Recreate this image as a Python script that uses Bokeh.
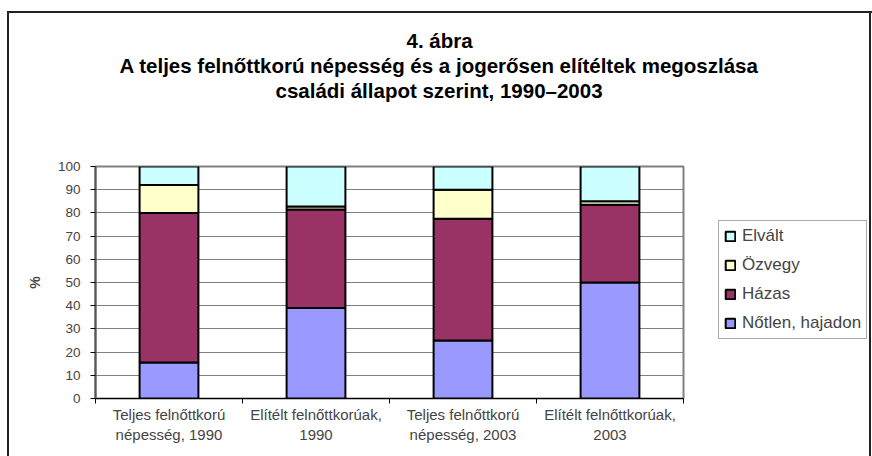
from bokeh.plotting import figure
from bokeh.models import FixedTicker, Legend, LegendItem, Title, Range1d, InlineStyleSheet
from bokeh.embed import file_html
from bokeh.resources import INLINE

categories = ["Teljes felnőttkorú\nnépesség, 1990", "Elítélt felnőttkorúak,\n1990",
              "Teljes felnőttkorú\nnépesség, 2003", "Elítélt felnőttkorúak,\n2003"]
series_names = ["Nőtlen, hajadon", "Házas", "Özvegy", "Elvált"]
notlen = [15.5, 39.0, 25.0, 50.0]
hazas = [64.5, 42.5, 52.5, 33.5]
ozvegy = [12.0, 1.3, 12.5, 1.5]
elvalt = [8.0, 17.2, 10.0, 15.0]
colors = ["#9999FF", "#993366", "#FFFFCC", "#CCFFFF"]
y_ticks = list(range(0, 101, 10))
title_lines = ["4. ábra",
               "A teljes felnőttkorú népesség és a jogerősen elítéltek megoszlása",
               "családi állapot szerint, 1990–2003"]
title_offsets = [311, 24, 180]   # left offsets (px) so each line is centred on the chart area

FONT = "Liberation Sans"
xs = [i + 0.5 for i in range(len(categories))]
data = dict(x=xs)
keys = ["s0", "s1", "s2", "s3"]
for k, vals in zip(keys, [notlen, hazas, ozvegy, elvalt]):
    data[k] = vals

p = figure(frame_width=588, frame_height=232,
           x_range=Range1d(0, len(categories)), y_range=Range1d(0, 100),
           output_backend="svg", toolbar_location=None, title=None,
           min_border_left=86, min_border_right=186, min_border_top=153, min_border_bottom=58)
p.margin = (11, 0, 0, 7)
p.styles = {"border-left": "2px solid #222", "border-top": "2px solid #222"}
p.stylesheets = [InlineStyleSheet(css=(
    ":host { position: relative; }"
    ":host::after { content: ''; position: absolute; left: 860px; top: 0; bottom: 0;"
    " width: 2px; background: #222; pointer-events: none; }"))]

rs = p.vbar_stack(keys, x="x", width=0.4, source=data, fill_color=colors,
                  line_color="black", line_width=2)

# spacer between title block and plot area, then title lines (nearest first)
p.add_layout(Title(text=" ", text_font=FONT, text_font_size="20.5px", standoff=40), "above")
for line, off in reversed(list(zip(title_lines, title_offsets))):
    p.add_layout(Title(text=line, align="left", offset=off, standoff=0,
                       text_font=FONT, text_font_size="20.5px", text_font_style="bold",
                       text_color="black"), "above")

# axes
p.yaxis.ticker = FixedTicker(ticks=y_ticks)
p.yaxis.axis_label = "%"
p.yaxis.axis_label_text_font = FONT
p.yaxis.axis_label_text_font_size = "14px"
p.yaxis.axis_label_text_font_style = "bold"
p.yaxis.axis_label_standoff = 12
p.yaxis.major_label_text_font = FONT
p.yaxis.major_label_text_font_size = "13.5px"
p.yaxis.major_label_standoff = 10
p.yaxis.major_tick_out = 5
p.yaxis.major_tick_in = 0
p.yaxis.minor_tick_line_color = None
p.yaxis.axis_line_color = "#555555"
p.yaxis.axis_line_width = 2

p.xaxis.ticker = FixedTicker(ticks=xs, minor_ticks=list(range(len(categories) + 1)))
p.xaxis.major_label_overrides = {x: c for x, c in zip(xs, categories)}
p.xaxis.major_label_text_font = FONT
p.xaxis.major_label_text_font_size = "15px"
p.xaxis.major_label_standoff = 2
p.xaxis.major_tick_out = 0
p.xaxis.major_tick_in = 0
p.xaxis.minor_tick_out = 5
p.xaxis.minor_tick_in = 0
p.xaxis.minor_tick_line_color = "black"
p.xaxis.axis_line_color = "black"

p.xgrid.visible = False
p.ygrid.ticker = FixedTicker(ticks=y_ticks)
p.ygrid.grid_line_color = "#808080"
p.ygrid.grid_line_width = 1
p.outline_line_color = "#808080"
p.outline_line_width = 2

items = [LegendItem(label=n, renderers=[r]) for n, r in zip(series_names, rs)]
legend = Legend(items=list(reversed(items)), location=(35, 59), margin=0,
                label_text_font=FONT, label_text_font_size="17px",
                glyph_width=12, glyph_height=12, label_standoff=6,
                label_height=20, spacing=9, padding=5,
                border_line_color="#555555", border_line_width=1.5,
                background_fill_alpha=1)
p.add_layout(legend, "right")

open("out.html", "w").write(file_html(p, INLINE))
